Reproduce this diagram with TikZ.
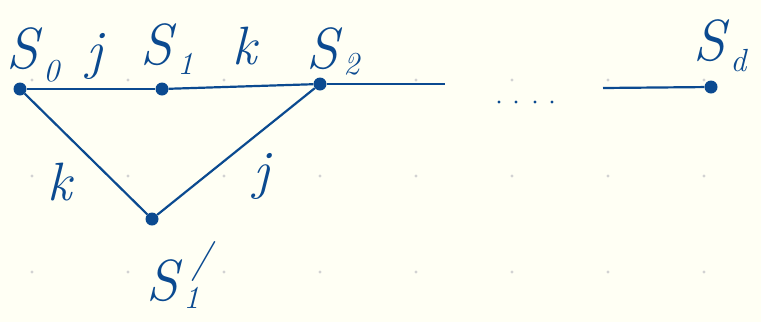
\documentclass[tikz,border=0pt]{standalone}
\usepackage{xcolor}
\definecolor{ink}{HTML}{0B4A90}
\definecolor{paper}{HTML}{FFFFF4}
\definecolor{griddot}{HTML}{D2D2D2}
\newcommand\sublab[3][-0.24em]{\textit{#2}\kern1pt\raisebox{#1}{\fontsize{32}{34}\selectfont\textit{#3}}}
\begin{document}
\begin{tikzpicture}[x=1pt,y=-1pt,
  vert/.style={circle,fill=ink,inner sep=0pt,minimum size=13pt},
  edge/.style={draw=ink,line width=2.2pt},
  lbl/.style={text=ink,inner sep=0pt,font=\fontsize{58}{62}\selectfont},
  elbl/.style={text=ink,inner sep=0pt,font=\fontsize{54}{58}\selectfont\itshape}]
\fill[paper] (0,0) rectangle (761,322);
\useasboundingbox (0,0) rectangle (761,322);
% grid dots
\foreach \gx in {32,128,224,320,416,512,608,704}
  \foreach \gy in {80,176,272}
    \fill[griddot] (\gx,\gy) circle (1.7pt);
% vertices
\node[vert] (s0) at (20,89) {};
\node[vert] (s1) at (162,89) {};
\node[vert] (s2) at (320,84) {};
\node[vert] (sd) at (711,87) {};
\node[vert] (s1p) at (152,219) {};
\coordinate (r1) at (445,84);
\coordinate (r2) at (603,88);
% edges
\draw[edge] (s0) -- (s1);
\draw[edge] (s1) -- (s2);
\draw[edge] (s2) -- (r1);
\draw[edge] (r2) -- (sd);
\draw[edge] (s0) -- (s1p);
\draw[edge] (s1p) -- (s2);
% ellipsis
\foreach \dx in {499,516,535,552}
  \fill[ink] (\dx,102) circle (1.6pt);
% labels
\node[lbl,anchor=base west] (l0) at (6,68) {\sublab{S}{0}};
\node[lbl,anchor=base west] (l1) at (140,64) {\sublab[-0.18em]{S}{1}};
\node[lbl,anchor=base west] (l2) at (306,68) {\sublab[-0.12em]{S}{2}};
\node[lbl,anchor=base west] (ld) at (693,60) {\sublab[-0.2em]{S}{d}};
\node[lbl,anchor=base west] (l1p) at (146,300) {\sublab[-0.15em]{S}{1}\kern-8pt\raisebox{0.5em}{\fontsize{40}{42}\selectfont\textit{/}}};
\node[elbl] (e1) at (95,56) {j};
\node[elbl] (e2) at (245,46) {k};
\node[elbl] (e3) at (60,182) {k};
\node[elbl] (e4) at (262,176) {j};
\end{tikzpicture}
\end{document}
